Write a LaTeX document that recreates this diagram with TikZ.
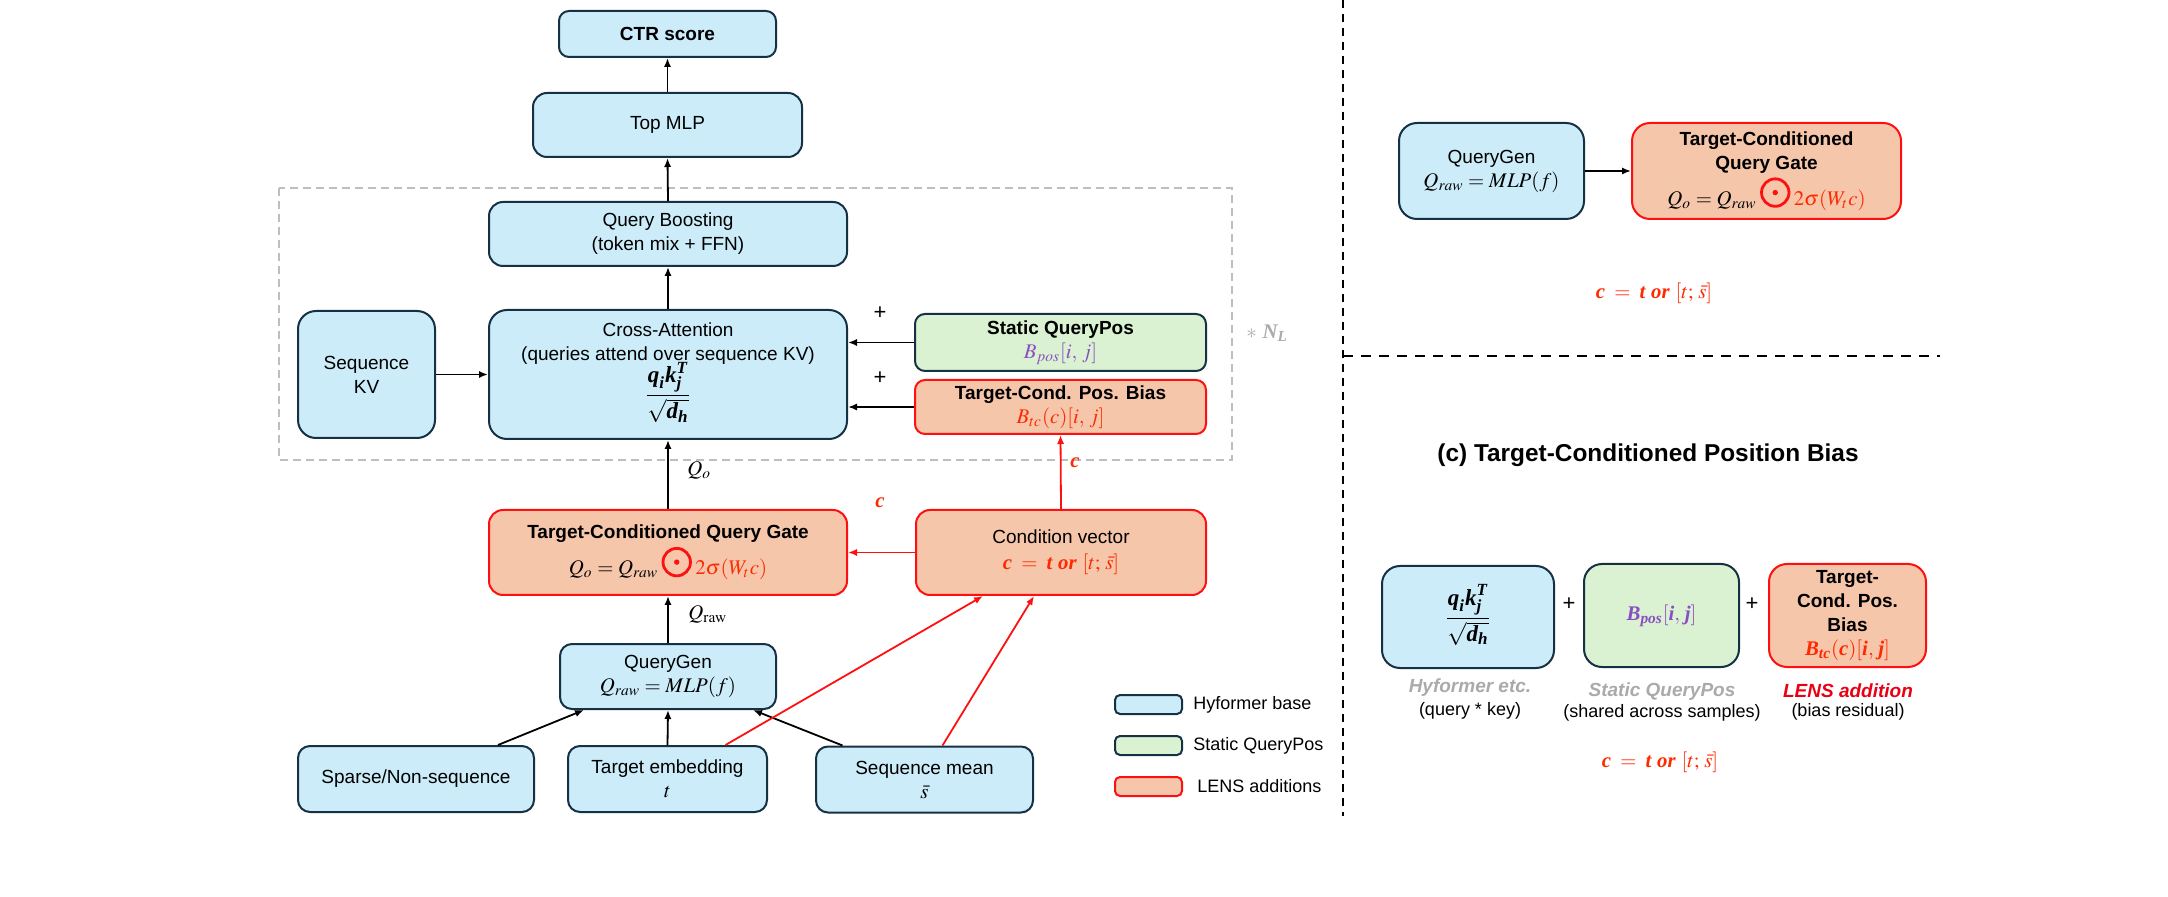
\documentclass[tikz,border=0pt]{standalone}
\usepackage{amsmath}
\usepackage{mathptmx}
\usepackage[no-math]{fontspec}
\setmainfont{Liberation Sans}
\newfontfamily\tms{Liberation Serif}
\usetikzlibrary{arrows.meta,calc}
\definecolor{bluef}{RGB}{204,236,250}
\definecolor{greenf}{RGB}{218,242,209}
\definecolor{salmon}{RGB}{245,198,170}
\definecolor{bdr}{RGB}{22,48,68}
\definecolor{redb}{RGB}{255,16,16}
\definecolor{redt}{RGB}{255,40,0}
\definecolor{purp}{RGB}{137,78,196}
\definecolor{lgray}{RGB}{170,170,170}
\definecolor{dgray}{RGB}{190,190,190}
\definecolor{lensred}{RGB}{232,0,20}
\newcommand\fsz{\fontsize{9.5pt}{12pt}\selectfont}
\newcommand\fml{\fontsize{10.4pt}{12pt}\selectfont}
\newcommand\bv[1]{\text{\tms\bfseries\itshape #1}}
\newcommand\attfrac{{\fontsize{11.5pt}{14pt}\selectfont$\dfrac{\bv{q}_{\bv{i}}\bv{k}_{\bv{j}}^{\bv{T}}\vphantom{\big|}}{\sqrt{\bv{d}_{\bv{h}}}\vphantom{\big|}}$}}
\newcommand\odotc{\tikz[baseline={(0pt,-0.3em)}]{\draw[redb,line width=1.4pt](0pt,0.3em) circle[radius=0.66em]; \fill[redb](0pt,0.3em) circle[radius=0.13em];}}
\newcommand\cform{$\bv{c}\;=\;\bv{t}$\ \bv{or}\ $[t;\,\bar{s}]$}
\tikzset{
  basebox/.style={draw=bdr, fill=bluef, line width=1pt, rounded corners=7pt, align=center, font=\fsz, inner sep=0pt},
  greenbox/.style={basebox, fill=greenf},
  redbox/.style={basebox, draw=redb, fill=salmon},
  arr/.style={-{Latex[length=4.5pt,width=3.6pt]}, line width=0.9pt},
  redarr/.style={arr, draw=redb},
  lbl/.style={font=\fsz, inner sep=0pt},
}
\begin{document}
\begin{tikzpicture}[x=0.5pt,y=-0.5pt]
\useasboundingbox (0,0) rectangle (2168,897);
% ---------------- left panel ----------------
\draw[dgray, line width=1pt, dash pattern=on 4pt off 2.5pt] (279,188) rectangle (1232,460);
\node[lbl, text=lgray, anchor=west] (nl) at (1246,333) {{\fml$*$ \bv{N}\textsubscript{\bv{L}}}};

\node[basebox, minimum width=108.5pt, minimum height=23pt, rounded corners=5pt] (ctr) at (667.5,34) {\bfseries CTR score};
\node[basebox, minimum width=134.5pt, minimum height=32pt] (mlp) at (667.5,125) {Top MLP};
\node[basebox, minimum width=179pt, minimum height=32pt] (qb) at (668,234) {Query Boosting\\(token mix + FFN)};
\node[basebox, minimum width=179pt, minimum height=64.5pt, rounded corners=9pt] (ca) at (668,374.5) {Cross-Attention\\(queries attend over sequence KV)\\[-2pt]\attfrac};
\node[basebox, minimum width=68.5pt, minimum height=63.5pt, rounded corners=9pt] (skv) at (366.5,374.5) {Sequence\\KV};
\node[greenbox, minimum width=145.5pt, minimum height=28.5pt, rounded corners=5pt] (sqp) at (1060.5,342.5) {\bfseries Static QueryPos\\{\fml\color{purp}$B_{pos}[i,\,j]$}};
\node[redbox, minimum width=145.5pt, minimum height=27pt, rounded corners=5pt] (tcb) at (1060.5,407) {\bfseries Target-Cond. Pos. Bias\\{\fml\color{redt}$B_{tc}(c)[i,\,j]$}};
\node[lbl, font=\fontsize{11pt}{12pt}\selectfont] (p1) at (880,313) {+};
\node[lbl, font=\fontsize{11pt}{12pt}\selectfont] (p2) at (880,378) {+};

\node[redbox, minimum width=179pt, minimum height=42.5pt] (gate) at (668,552.5) {\bfseries Target-Conditioned Query Gate\\[1pt]{\fml$Q_o = Q_{raw}$\,\odotc\,{\color{redt}$2\sigma(W_t c)$}}};
\node[redbox, minimum width=145pt, minimum height=42.5pt] (cv) at (1061,552.5) {Condition vector\\[1pt]{\fml\color{redt}\cform}};
\node[basebox, minimum width=108pt, minimum height=32.5pt, rounded corners=6pt] (qg) at (668,676.5) {QueryGen\\{\fml$Q_{raw} = MLP(f)$}};
\node[basebox, minimum width=118pt, minimum height=33pt, rounded corners=6pt] (sparse) at (416,779) {Sparse/Non-sequence};
\node[basebox, minimum width=99.5pt, minimum height=33pt, rounded corners=6pt] (temb) at (667.5,779) {Target embedding\\{\fml$t$}};
\node[basebox, minimum width=108.5pt, minimum height=33pt, rounded corners=6pt] (smean) at (924.5,779.5) {Sequence mean\\{\fml$\bar{s}$}};

\node[lbl, anchor=west] (qo) at (687,470) {\fml$Q_o$};
\node[lbl, anchor=west] (qr) at (688,614) {\fml$Q_{\mathrm{raw}}$};
\node[lbl, text=redt] (c1) at (880,503) {\fml\bv{c}};
\node[lbl, text=redt, anchor=west] (c2) at (1070,463) {\fml\bv{c}};

\draw[arr] (mlp.north) -- (ctr.south);
\draw[arr] (qb.north) -- (mlp.south);
\draw[arr] (ca.north) -- (qb.south);
\draw[arr] (skv.east) -- (skv.east -| ca.west);
\draw[arr] (sqp.west) -- (sqp.west -| ca.east);
\draw[arr] (tcb.west) -- (tcb.west -| ca.east);
\draw[arr] (gate.north) -- (ca.south);
\draw[arr] (qg.north) -- (gate.south);
\draw[arr] ([xshift=41pt]sparse.north) -- ([xshift=-42pt]qg.south);
\draw[arr] (temb.north) -- (qg.south);
\draw[arr] ([xshift=-41pt]smean.north) -- ([xshift=42.5pt]qg.south);
\draw[redarr] (cv.west) -- (gate.east);
\draw[redarr] (cv.north) -- (tcb.south);
\draw[redarr] ([xshift=29pt]temb.north) -- ([xshift=-39pt]cv.south);
\draw[redarr] ([xshift=9pt]smean.north) -- ([xshift=-13.5pt]cv.south);

% legend
\node[basebox, minimum width=33.5pt, minimum height=9.5pt, rounded corners=2.5pt] (lg1) at (1148.5,704.5) {};
\node[greenbox, minimum width=33.5pt, minimum height=9.5pt, rounded corners=2.5pt] (lg2) at (1148.5,745.5) {};
\node[redbox, minimum width=33.5pt, minimum height=9.5pt, rounded corners=2.5pt] (lg3) at (1148.5,786.5) {};
\node[lbl, anchor=west, font=\fontsize{9pt}{11pt}\selectfont] (lt1) at (1193,704.5) {Hyformer base};
\node[lbl, anchor=west, font=\fontsize{9pt}{11pt}\selectfont] (lt2) at (1193,745.5) {Static QueryPos};
\node[lbl, anchor=west, font=\fontsize{9pt}{11pt}\selectfont] (lt3) at (1197,786.5) {LENS additions};

% separators
\coordinate (v1) at (1343,0);
\coordinate (v2) at (1343,816);
\coordinate (h1) at (1343,356);
\coordinate (h2) at (1940,356);
\draw[black, line width=1pt, dash pattern=on 4pt off 3pt] (v1) -- (v2);
\draw[black, line width=1pt, dash pattern=on 5pt off 4pt] (h1) -- (h2);

% ---------------- right top ----------------
\node[basebox, minimum width=92.5pt, minimum height=48pt, rounded corners=9pt] (rqg) at (1491.5,171) {QueryGen\\{\fml$Q_{raw} = MLP(f)$}};
\node[redbox, minimum width=134.5pt, minimum height=48pt, rounded corners=9pt] (rgate) at (1766.5,171) {{\bfseries Target-Conditioned}\\{\bfseries Query Gate}\\[1pt]{\fml$Q_o = Q_{raw}$\,\odotc\,{\color{redt}$2\sigma(W_t c)$}}};
\draw[arr] (rqg.east) -- (rgate.west);
\node[lbl, text=redt] (rc) at (1654,293) {\fml\cform};

% ---------------- right bottom ----------------
\node[lbl, font=\fontsize{12.2pt}{15pt}\selectfont\bfseries] (title) at (1648,455) {(c) Target-Conditioned Position Bias};
\node[basebox, minimum width=86pt, minimum height=51pt, rounded corners=9pt] (b1) at (1468,617) {\attfrac};
\node[greenbox, minimum width=77.5pt, minimum height=51.5pt, rounded corners=9pt] (b2) at (1661.5,615.5) {{\fml\color{purp}$\bv{B}_{\bv{pos}}[\bv{i},\,\bv{j}]$}};
\node[redbox, minimum width=78.5pt, minimum height=51.5pt, rounded corners=9pt] (b3) at (1847.5,615.5) {\fontsize{9.5pt}{11.3pt}\selectfont\bfseries Target-\\\bfseries Cond. Pos.\\\bfseries Bias\\{\fml\color{redt}$\bv{B}_{\bv{tc}}(\bv{c})[\bv{i},\,\bv{j}]$}};
\node[lbl, font=\fontsize{11pt}{12pt}\selectfont] (rp1) at (1569,604) {+};
\node[lbl, font=\fontsize{11pt}{12pt}\selectfont] (rp2) at (1752,604) {+};
\node[lbl, text=lgray, font=\fsz\bfseries\itshape] (l1a) at (1470,688) {Hyformer etc.};
\node[lbl, font=\fontsize{9pt}{11pt}\selectfont] (l1b) at (1470,711) {(query * key)};
\node[lbl, text=lgray, font=\fsz\bfseries\itshape] (l2a) at (1662,692) {Static QueryPos};
\node[lbl, font=\fontsize{9pt}{11pt}\selectfont] (l2b) at (1662,713) {(shared across samples)};
\node[lbl, text=lensred, font=\fsz\bfseries\itshape] (l3a) at (1848,691) {LENS addition};
\node[lbl, font=\fontsize{9pt}{11pt}\selectfont] (l3b) at (1848,712) {(bias residual)};
\node[lbl, text=redt] (rc2) at (1660,762) {\fml\cform};
\end{tikzpicture}
\end{document}
